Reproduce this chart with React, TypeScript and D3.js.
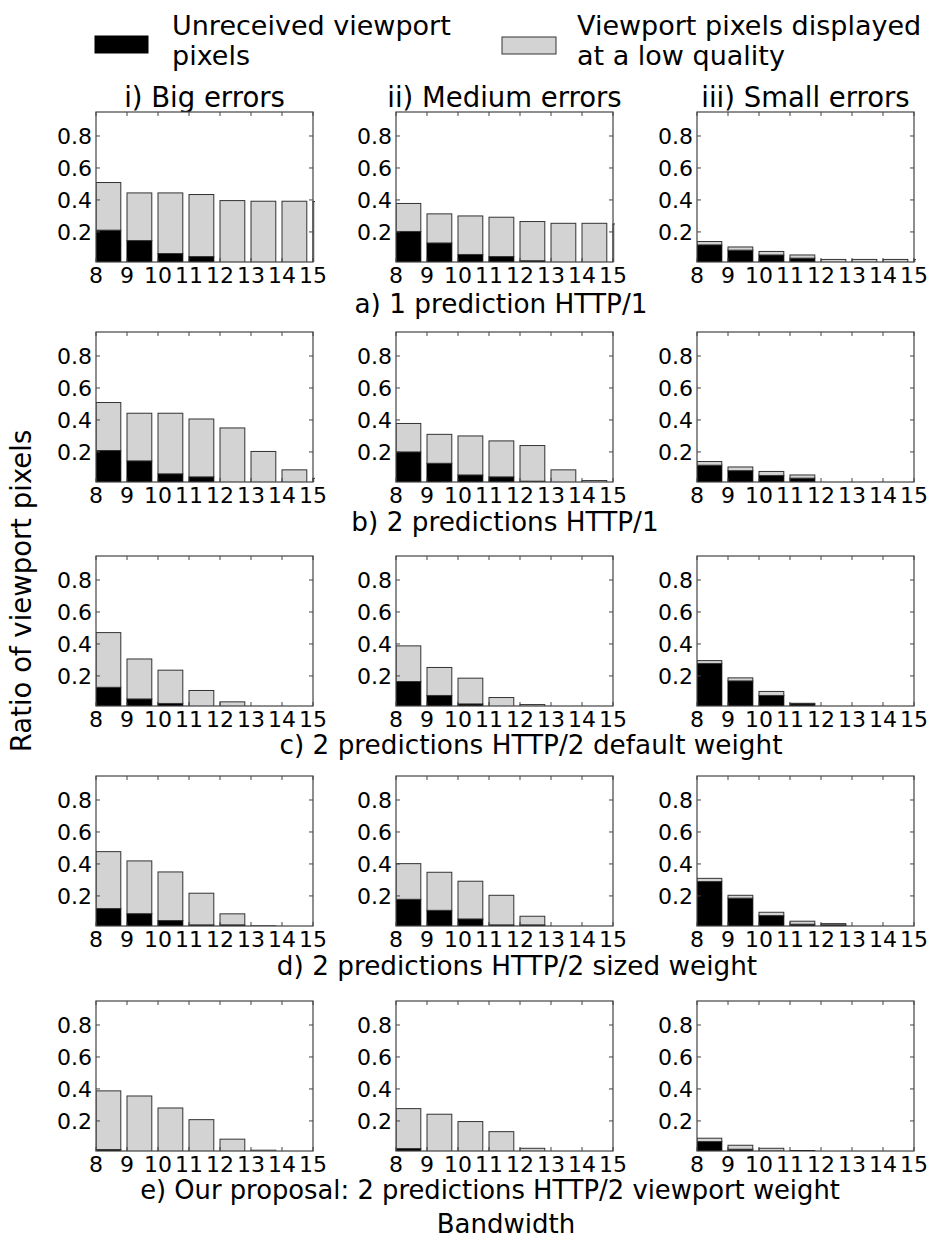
import React from 'react';
import * as d3 from 'd3';

// ---------- data ----------
const BANDWIDTH = [8, 9, 10, 11, 12, 13, 14, 15];
const Y_TICKS = [0.2, 0.4, 0.6, 0.8];
const COLUMN_TITLES = ['i) Big errors', 'ii) Medium errors', 'iii) Small errors'];
const ROW_TITLES = [
  'a) 1 prediction HTTP/1',
  'b) 2 predictions HTTP/1',
  'c) 2 predictions HTTP/2 default weight',
  'd) 2 predictions HTTP/2 sized weight',
  'e) Our proposal: 2 predictions HTTP/2 viewport weight',
];
const LEGEND_UNRECEIVED = ['Unreceived viewport', 'pixels'];
const LEGEND_LOW_QUALITY = ['Viewport pixels displayed', 'at a low quality'];
const Y_LABEL = 'Ratio of viewport pixels';
const X_LABEL = 'Bandwidth';

// each row: [big errors, medium errors, small errors]
const UNRECEIVED_A = [
  [0.211, 0.146, 0.065, 0.046, 0, 0, 0, 0],
  [0.203, 0.131, 0.059, 0.046, 0.02, 0, 0, 0],
  [0.119, 0.086, 0.056, 0.036, 0, 0, 0, 0],
];
const LOW_QUALITY_A = [
  [0.298, 0.298, 0.379, 0.388, 0.396, 0.392, 0.392, 0.39],
  [0.175, 0.182, 0.241, 0.246, 0.245, 0.254, 0.254, 0.25],
  [0.021, 0.02, 0.022, 0.02, 0.028, 0.028, 0.028, 0.027],
];
const UNRECEIVED_B = [
  [0.209, 0.144, 0.063, 0.044, 0, 0, 0, 0],
  [0.2, 0.129, 0.056, 0.044, 0.017, 0, 0, 0],
  [0.117, 0.083, 0.053, 0.036, 0, 0, 0, 0],
];
const LOW_QUALITY_B = [
  [0.3, 0.298, 0.379, 0.362, 0.35, 0.203, 0.088, 0.035],
  [0.178, 0.181, 0.244, 0.225, 0.223, 0.088, 0.021, 0],
  [0.023, 0.023, 0.025, 0.02, 0, 0, 0, 0],
];
const UNRECEIVED_C = [
  [0.129, 0.056, 0.028, 0, 0, 0, 0, 0],
  [0.165, 0.078, 0.025, 0, 0, 0, 0, 0],
  [0.278, 0.169, 0.078, 0.025, 0, 0, 0, 0],
];
const LOW_QUALITY_C = [
  [0.342, 0.25, 0.208, 0.109, 0.038, 0, 0, 0],
  [0.223, 0.175, 0.161, 0.065, 0.021, 0, 0, 0],
  [0.018, 0.019, 0.025, 0.004, 0, 0, 0, 0],
];
const UNRECEIVED_D = [
  [0.121, 0.089, 0.046, 0.019, 0.019, 0, 0, 0],
  [0.179, 0.11, 0.056, 0.019, 0.019, 0, 0, 0],
  [0.29, 0.186, 0.077, 0.023, 0.019, 0, 0, 0],
];
const LOW_QUALITY_D = [
  [0.356, 0.33, 0.304, 0.198, 0.069, 0.013, 0, 0],
  [0.223, 0.238, 0.236, 0.185, 0.054, 0, 0, 0],
  [0.02, 0.018, 0.021, 0.019, 0.008, 0, 0, 0],
];
const UNRECEIVED_E = [
  [0.021, 0, 0, 0, 0, 0, 0, 0],
  [0.027, 0, 0, 0, 0, 0, 0, 0],
  [0.071, 0.023, 0.012, 0.015, 0, 0, 0, 0],
];
const LOW_QUALITY_E = [
  [0.367, 0.356, 0.281, 0.208, 0.086, 0.017, 0, 0],
  [0.25, 0.242, 0.196, 0.133, 0.029, 0, 0, 0],
  [0.021, 0.025, 0.017, 0, 0, 0, 0, 0],
];

const UNRECEIVED = [UNRECEIVED_A, UNRECEIVED_B, UNRECEIVED_C, UNRECEIVED_D, UNRECEIVED_E];
const LOW_QUALITY = [LOW_QUALITY_A, LOW_QUALITY_B, LOW_QUALITY_C, LOW_QUALITY_D, LOW_QUALITY_E];

// ---------- layout ----------
const WIDTH = 927;
const HEIGHT = 1239;
const COL_X = [96, 396, 697];
const ROW_Y = [112, 332, 556, 776, 1001];
const PW = 217;
const PH = 150;
const Y_DOMAIN = [0.012, 0.95];
const X_DOMAIN = [8, 15];
const BAR_W = 0.8;
const ROW_TITLE_X = [501, 505, 531, 517, 490];
const ROW_TITLE_Y = [313, 531, 754, 975, 1199];
const ROW_TITLE_SIZE = [26.3, 26.3, 26.3, 26.3, 25.8];
const FONT = 'DejaVu Sans, sans-serif';
const FRAME = '#444';
const GREY = '#d3d3d3';

function Txt({ x, y, size, anchor = 'start', children }: any) {
  return (
    <text x={x} y={y} fontSize={size} fontFamily={FONT} textAnchor={anchor} fill="#000">
      {children}
    </text>
  );
}

function Panel({ r, c }: { r: number; c: number }) {
  const x0 = COL_X[c];
  const y0 = ROW_Y[r];
  const x = d3.scaleLinear().domain(X_DOMAIN).range([0, PW]);
  const y = d3.scaleLinear().domain(Y_DOMAIN).range([PH, 0]);
  const black = UNRECEIVED[r][c];
  const grey = LOW_QUALITY[r][c];
  const clipId = `clip-${r}-${c}`;
  return (
    <g transform={`translate(${x0},${y0})`}>
      <defs>
        <clipPath id={clipId}>
          <rect x={0} y={0} width={PW + 2} height={PH} />
        </clipPath>
      </defs>
      <rect x={0} y={0} width={PW} height={PH} fill="#fff" />
      <g clipPath={`url(#${clipId})`}>
        {BANDWIDTH.map((b, i) => {
          const bx = x(b);
          const bw = x(b + BAR_W) - x(b);
          const yb0 = y(0);
          const yb1 = y(black[i]);
          const yg1 = y(black[i] + grey[i]);
          return (
            <g key={b}>
              <rect x={bx} y={yb1} width={bw} height={yb0 - yb1} fill="#000" stroke="#000" strokeWidth={1} />
              <rect x={bx} y={yg1} width={bw} height={yb1 - yg1} fill={GREY} stroke="#333" strokeWidth={1} />
            </g>
          );
        })}
      </g>
      {BANDWIDTH.map((b) => (
        <g key={'xt' + b} stroke={FRAME} strokeWidth={1}>
          <line x1={x(b)} x2={x(b)} y1={0} y2={4} />
          <line x1={x(b)} x2={x(b)} y1={PH} y2={PH - 4} />
        </g>
      ))}
      {Y_TICKS.map((t) => (
        <g key={'yt' + t} stroke={FRAME} strokeWidth={1}>
          <line x1={0} x2={4} y1={y(t)} y2={y(t)} />
          <line x1={PW} x2={PW - 4} y1={y(t)} y2={y(t)} />
        </g>
      ))}
      <rect x={0} y={0} width={PW} height={PH} fill="none" stroke={FRAME} strokeWidth={1.2} />
      {Y_TICKS.map((t) => (
        <Txt key={'yl' + t} x={-4} y={y(t) + 8} size={22} anchor="end">
          {t.toFixed(1)}
        </Txt>
      ))}
      {BANDWIDTH.map((b) => (
        <Txt key={'xl' + b} x={x(b)} y={PH + 21} size={22} anchor="middle">
          {b}
        </Txt>
      ))}
    </g>
  );
}

export default function App() {
  return (
    <svg
      width={WIDTH}
      height={HEIGHT}
      style={{ position: 'absolute', left: 0, top: 0, background: '#fff' }}
    >
      <rect x={0} y={0} width={WIDTH} height={HEIGHT} fill="#fff" />
      {/* legend */}
      <rect x={95} y={36} width={53} height={17} fill="#000" stroke="#000" />
      <Txt x={172} y={35} size={27}>{LEGEND_UNRECEIVED[0]}</Txt>
      <Txt x={172} y={65} size={27}>{LEGEND_UNRECEIVED[1]}</Txt>
      <rect x={502} y={37} width={54} height={17} fill={GREY} stroke="#333" />
      <Txt x={577} y={35} size={27}>{LEGEND_LOW_QUALITY[0]}</Txt>
      <Txt x={577} y={65} size={27}>{LEGEND_LOW_QUALITY[1]}</Txt>
      {/* column titles */}
      {COLUMN_TITLES.map((t, c) => (
        <Txt key={t} x={COL_X[c] + PW / 2} y={107} size={27.5} anchor="middle">
          {t}
        </Txt>
      ))}
      {/* panels */}
      {ROW_Y.map((_, r) => COL_X.map((_, c) => <Panel key={r + '-' + c} r={r} c={c} />))}
      {/* row titles */}
      {ROW_TITLES.map((t, r) => (
        <Txt key={t} x={ROW_TITLE_X[r]} y={ROW_TITLE_Y[r]} size={ROW_TITLE_SIZE[r]} anchor="middle">
          {t}
        </Txt>
      ))}
      {/* axis labels */}
      <text transform={`translate(31,591) rotate(-90)`} fontSize={27.5} fontFamily={FONT} textAnchor="middle">
        {Y_LABEL}
      </text>
      <Txt x={506} y={1233} size={26} anchor="middle">{X_LABEL}</Txt>
    </svg>
  );
}
